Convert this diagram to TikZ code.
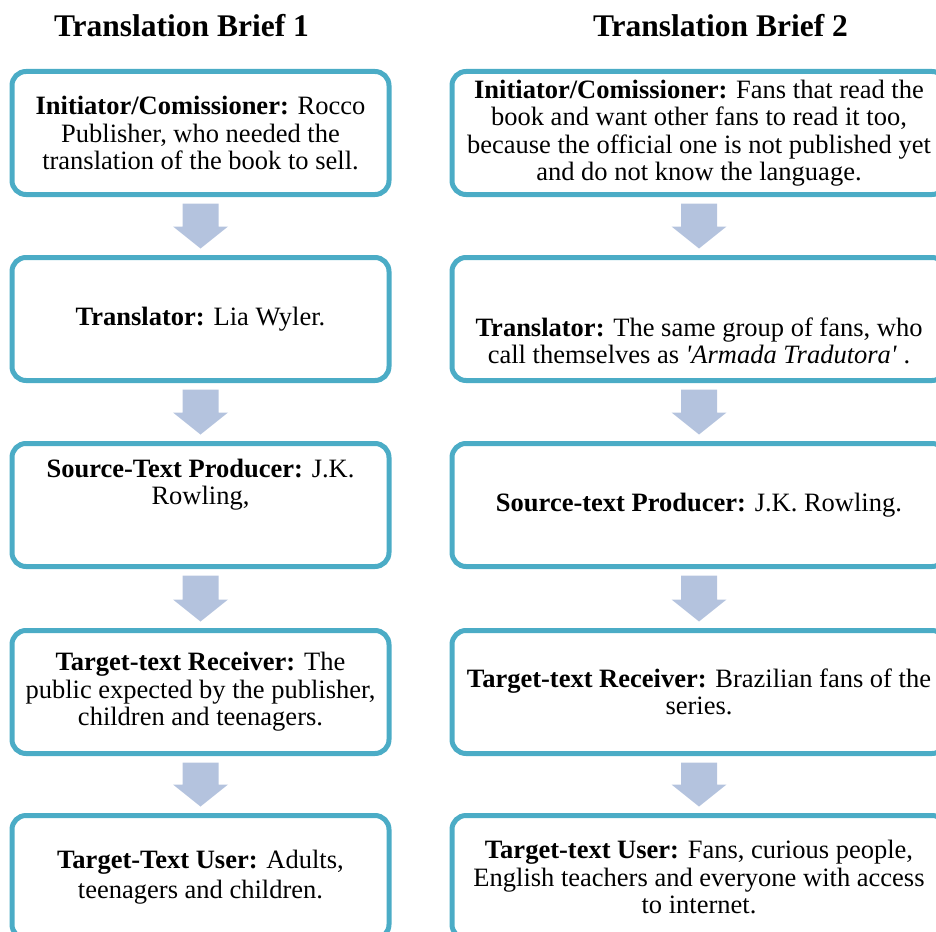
\documentclass[tikz,border=0pt]{standalone}
\usepackage{fontspec}
\setmainfont{Liberation Serif}
\usetikzlibrary{calc}
\definecolor{boxline}{HTML}{4BACC6}
\definecolor{arrowblue}{HTML}{B4C3DE}
% block arrow from the box above to the box below
\newcommand{\flowarrow}[2]{%
\fill[arrowblue] ($(#1.south)+(-18,9)$) -- ($(#1.south)+(18,9)$) -- ($(#2.north)+(18,-31)$) -- ($(#2.north)+(27.5,-31)$)
  -- ($(#2.north)+(0,-9)$) -- ($(#2.north)+(-27.5,-31)$) -- ($(#2.north)+(-18,-31)$) -- cycle;}
\begin{document}
\begin{tikzpicture}[x=1pt, y=-1pt,
brief box/.style={draw=boxline, line width=5pt, rounded corners=14pt, inner sep=0pt, outer sep=0pt, minimum height=123pt, align=center, font=\fontsize{26.5}{27.5}\selectfont},
left box/.style={brief box, minimum width=377pt},
right box/.style={brief box, minimum width=494pt},
brief title/.style={font=\fontsize{31.5}{36}\selectfont\bfseries, anchor=base}]
\useasboundingbox (0,0) rectangle (936,931);
\node[brief title] (t1) at (181.5,37) {Translation Brief 1};
\node[brief title] (t2) at (720.5,37) {Translation Brief 2};
% brief 1
\node[left box] (l1) at (200.5,133) {\textbf{Initiator/Comissioner:} Rocco\\ Publisher, who needed the\\ translation of the book to sell.};
\node[left box] (l2) at (200.5,319) {\textbf{Translator:} Lia Wyler.};
\node[left box, text depth=46pt] (l3) at (200.5,505) {\textbf{Source-Text Producer:} J.K.\\ Rowling,};
\node[left box] (l4) at (200.5,692) {\textbf{Target-text Receiver:} The\\ public expected by the publisher,\\ children and teenagers.};
\node[left box, font=\fontsize{26.5}{30}\selectfont] (l5) at (200.5,877) {\textbf{Target-Text User:} Adults,\\ teenagers and children.};
% brief 2
\node[right box] (r1) at (699,133) {\textbf{Initiator/Comissioner:} Fans that read the\\ book and want other fans to read it too,\\ because the official one is not published yet\\ and do not know the language.};
\node[right box, text height=90pt] (r2) at (699,319) {\textbf{Translator:} The same group of fans, who\\ call themselves as \textit{\textquotesingle Armada Tradutora\textquotesingle} .};
\node[right box] (r3) at (699,505) {\textbf{Source-text Producer:} J.K. Rowling.};
\node[right box] (r4) at (699,692) {\textbf{Target-text Receiver:} Brazilian fans of the\\ series.};
\node[right box] (r5) at (699,877) {\textbf{Target-text User:} Fans, curious people,\\ English teachers and everyone with access\\ to internet.};
% arrows
\flowarrow{l1}{l2}
\flowarrow{l2}{l3}
\flowarrow{l3}{l4}
\flowarrow{l4}{l5}
\flowarrow{r1}{r2}
\flowarrow{r2}{r3}
\flowarrow{r3}{r4}
\flowarrow{r4}{r5}
\end{tikzpicture}
\end{document}
